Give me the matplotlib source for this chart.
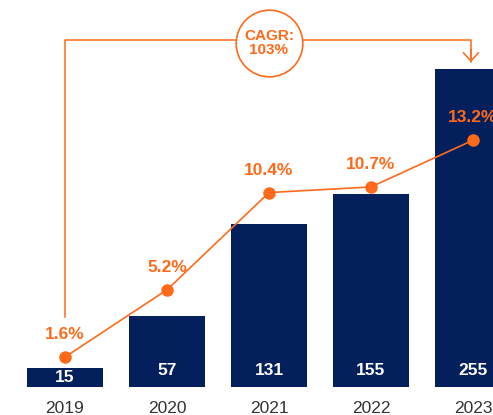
import numpy as np
import matplotlib
matplotlib.use("Agg")
import matplotlib.pyplot as plt

plt.rcParams['font.family'] = ['Liberation Sans', 'DejaVu Sans']

years = ['2019', '2020', '2021', '2022', '2023']
totals = [15, 57, 131, 155, 255]
shares = [1.6, 5.2, 10.4, 10.7, 13.2]
cagr_text = 'CAGR:\n103%'

navy = '#03205c'
orange = '#ff6a1a'

fig = plt.figure(figsize=(4.93, 4.15), dpi=100)
ax = fig.add_axes([0, 28 / 415, 1, 387 / 415])
x = np.arange(len(years))

bars = ax.bar(x, totals, width=0.745, color=navy, zorder=2)
ax.set_xlim(-0.637, 4.196)
ax.set_ylim(0, 310.3)

for xi, v in zip(x, totals):
    if v < 30:
        ax.text(xi, v / 2, str(v), color='white', fontsize=12.5, fontweight='bold',
                ha='center', va='center', zorder=3)
    else:
        ax.annotate(str(v), (xi, 0), xytext=(0, 12), textcoords='offset points',
                    color='white', fontsize=12.5, fontweight='bold',
                    ha='center', va='center', zorder=3)

ax.set_xticks(x)
ax.set_xticklabels(years, fontsize=12.5, color='#333333')
ax.tick_params(axis='x', length=0, pad=10)
ax.set_yticks([])
for s in ax.spines.values():
    s.set_visible(False)

# percentage line on its own scale
ax2 = ax.twinx()
ax2.set_ylim(0, 20.7)
ax2.plot(x, shares, color=orange, lw=1.2, marker='o', ms=8, zorder=4)
for xi, p in zip(x, shares):
    ax2.annotate(f'{p}%', (xi, p), xytext=(0, 16), textcoords='offset points',
                 color=orange, fontsize=12.5, fontweight='bold', ha='center', va='center')
ax2.set_yticks([])
for s in ax2.spines.values():
    s.set_visible(False)

# CAGR bracket
top = 278.3
xr = x[-1] - 0.02
ax.plot([x[0], x[0], xr, xr], [56, top, top, totals[-1] + 5.5],
        color=orange, lw=1.1, zorder=5, clip_on=False)
ax.annotate('', xy=(xr, totals[-1] + 5.5), xytext=(xr, totals[-1] + 16),
            arrowprops=dict(arrowstyle='->,head_length=0.6,head_width=0.55',
                            color=orange, lw=1.1, shrinkA=0, shrinkB=0), zorder=5)
ax.plot([2], [275.9], marker='o', ms=48, mfc='white', mec=orange, mew=1.2, zorder=6)
ax.text(2, 275.9, cagr_text, color=orange, fontsize=11, fontweight='bold',
        ha='center', va='center', linespacing=1.05, zorder=7)

fig.savefig('out.png', dpi=100)
